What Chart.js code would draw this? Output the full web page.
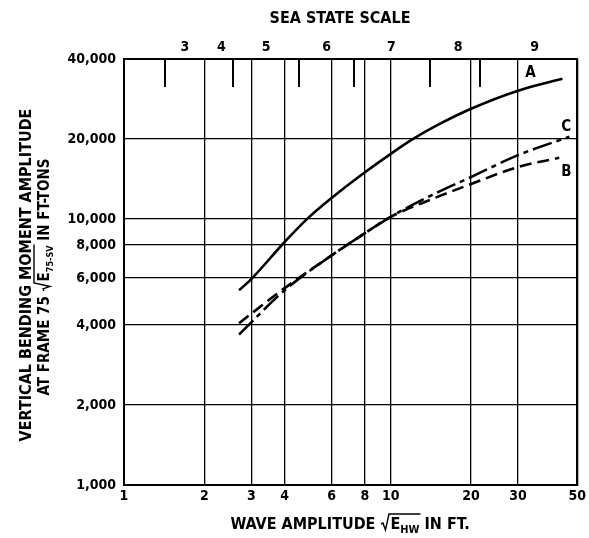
<!DOCTYPE html>
<html>
<head>
<meta charset="utf-8">
<style>
  html, body { margin: 0; padding: 0; background: #fff; }
</style>
</head>
<body>
<canvas id="chart" width="589" height="538"></canvas>
<script src="https://cdn.jsdelivr.net/npm/chart.js@4.4.1/dist/chart.umd.min.js"></script>
<script>
const FONT = '"DejaVu Sans Condensed", "DejaVu Sans", sans-serif';

// axes
const xTicks = [1, 2, 3, 4, 6, 8, 10, 20, 30, 50];
const yTicks = [1000, 2000, 4000, 6000, 8000, 10000, 20000, 40000];

// sea state scale along the top
const seaStates = ["3", "4", "5", "6", "7", "8", "9"];
const seaStateCenters = [1.69, 2.32, 3.41, 5.75, 10.05, 17.9, 34.6];
const seaStateBounds = [1.43, 2.57, 4.52, 7.26, 14.0, 21.6];

// curve A (solid)
const waveA = [2.7, 3, 4, 4.85, 6, 8, 10, 12, 15, 20, 30, 44];
const momentA = [5400, 5950, 8200, 10000, 12000, 15000, 17600, 19900, 22600, 26000, 30400, 33700];

// curve B (dashed)
const waveB = [2.7, 4, 6, 8, 10, 14, 20, 30, 42.8];
const momentB = [4060, 5500, 7300, 8850, 10200, 11800, 13550, 15700, 17000];

// curve C (dash-dot)
const waveC = [2.7, 4, 6, 8, 10, 14, 20, 30, 46.7];
const momentC = [3680, 5400, 7300, 8850, 10200, 12200, 14400, 17400, 20400];

const toPoints = (xs, ys) => xs.map((x, i) => ({ x: x, y: ys[i] }));

function fixTicks(values) {
  return (scale) => { scale.ticks = values.map((v) => ({ value: v })); };
}

// draws text pieces in a row, with a radical sign over the marked pieces
function drawRich(ctx, parts, cx, cy) {
  let total = 0;
  parts.forEach((p) => {
    if (p.rad) { p.w = 10; }
    else { ctx.font = "bold " + p.size + "px " + FONT; p.w = ctx.measureText(p.t).width; }
    total += p.w;
  });
  let x = cx - total / 2;
  const cap = 12;
  const base = cy + cap / 2;
  let radStart = null, radEnd = null;
  ctx.fillStyle = "#000";
  ctx.textBaseline = "alphabetic";
  ctx.textAlign = "left";
  parts.forEach((p) => {
    if (p.rad) { radStart = x; }
    else {
      ctx.font = "bold " + p.size + "px " + FONT;
      ctx.fillText(p.t, x, base + (p.dy || 0));
      if (p.over) radEnd = x + p.w;
    }
    x += p.w;
  });
  if (radStart !== null) {
    ctx.strokeStyle = "#000";
    ctx.lineWidth = 1.4;
    ctx.beginPath();
    ctx.moveTo(radStart + 0.5, base - 5);
    ctx.lineTo(radStart + 2.5, base - 6);
    ctx.lineTo(radStart + 5, base + 1);
    ctx.lineTo(radStart + 8.5, base - cap - 3);
    ctx.lineTo(radEnd + 1, base - cap - 3);
    ctx.stroke();
  }
}

const decorations = {
  id: "decorations",
  afterDraw(chart) {
    const { ctx, chartArea, scales } = chart;
    ctx.save();

    // sea state boundary marks hanging from the top border
    ctx.strokeStyle = "#000";
    ctx.lineWidth = 2;
    seaStateBounds.forEach((v) => {
      const px = Math.round(scales.x.getPixelForValue(v));
      ctx.beginPath();
      ctx.moveTo(px, chartArea.top);
      ctx.lineTo(px, chartArea.top + 28);
      ctx.stroke();
    });

    // curve letters
    ctx.fillStyle = "#000";
    ctx.font = "bold 15px " + FONT;
    ctx.textAlign = "center";
    ctx.textBaseline = "middle";
    [["A", 33.4, 35300], ["C", 45.5, 22200], ["B", 45.5, 15000]].forEach(([t, x, y]) => {
      ctx.fillText(t, scales.x.getPixelForValue(x), scales.y.getPixelForValue(y));
    });

    // titles
    ctx.font = "bold 16px " + FONT;
    ctx.fillText("SEA STATE SCALE", 340, 19);

    drawRich(ctx, [
      { t: "WAVE AMPLITUDE ", size: 16 },
      { rad: true },
      { t: "E", size: 16, over: true },
      { t: "HW", size: 11, dy: 4, over: true },
      { t: " IN FT.", size: 16 }
    ], 350, 523);

    ctx.save();
    ctx.translate(25, 275);
    ctx.rotate(-Math.PI / 2);
    drawRich(ctx, [{ t: "VERTICAL BENDING MOMENT AMPLITUDE", size: 16 }], 0, 0);
    ctx.restore();

    ctx.save();
    ctx.translate(43, 277);
    ctx.rotate(-Math.PI / 2);
    drawRich(ctx, [
      { t: "AT FRAME 75 ", size: 15 },
      { rad: true },
      { t: "E", size: 15, over: true },
      { t: "75-SV", size: 9, dy: 4, over: true },
      { t: " IN FT-TONS", size: 15 }
    ], 0, 0);
    ctx.restore();

    ctx.restore();
  }
};

const tickFont = { family: FONT, size: 14, weight: "bold" };
const lineStyle = { borderColor: "#000", borderWidth: 2.6, pointRadius: 0, fill: false,
                    cubicInterpolationMode: "monotone" };

new Chart(document.getElementById("chart"), {
  type: "line",
  data: {
    datasets: [
      { ...lineStyle, label: "A", data: toPoints(waveA, momentA) },
      { ...lineStyle, label: "B", data: toPoints(waveB, momentB), borderDash: [12, 6] },
      { ...lineStyle, label: "C", data: toPoints(waveC, momentC), borderDash: [20, 5, 5, 5] }
    ]
  },
  options: {
    responsive: false,
    animation: false,
    devicePixelRatio: 1,
    layout: { padding: 0 },
    plugins: { legend: { display: false }, tooltip: { enabled: false } },
    scales: {
      x: {
        type: "logarithmic",
        position: "bottom",
        min: 1,
        max: 50,
        afterBuildTicks: fixTicks(xTicks),
        afterFit: (s) => { s.height = 53; },
        grid: { color: "#000", lineWidth: 1.3, drawTicks: false },
        border: { color: "#000", width: 2 },
        ticks: { color: "#000", font: tickFont, padding: 3, maxRotation: 0, autoSkip: false,
                 callback: (v) => String(v) }
      },
      x2: {
        type: "logarithmic",
        position: "top",
        min: 1,
        max: 50,
        afterBuildTicks: fixTicks(seaStateCenters),
        afterFit: (s) => { s.height = 59; },
        grid: { display: false, drawTicks: false },
        border: { color: "#000", width: 2 },
        ticks: { color: "#000", font: tickFont, padding: 3, maxRotation: 0, autoSkip: false,
                 callback: (v, i) => seaStates[i] }
      },
      y: {
        type: "logarithmic",
        position: "left",
        min: 1000,
        max: 40000,
        afterBuildTicks: fixTicks(yTicks),
        afterFit: (s) => { s.width = 124; },
        grid: { color: "#000", lineWidth: 1.3, drawTicks: false },
        border: { color: "#000", width: 2 },
        ticks: { color: "#000", font: tickFont, padding: 8, autoSkip: false,
                 callback: (v) => Number(v).toLocaleString("en-US") }
      },
      y2: {
        type: "logarithmic",
        position: "right",
        min: 1000,
        max: 40000,
        afterFit: (s) => { s.width = 9; },
        grid: { display: false, drawTicks: false },
        border: { color: "#000", width: 2 },
        ticks: { display: false }
      }
    }
  },
  plugins: [decorations]
});
</script>
</body>
</html>
